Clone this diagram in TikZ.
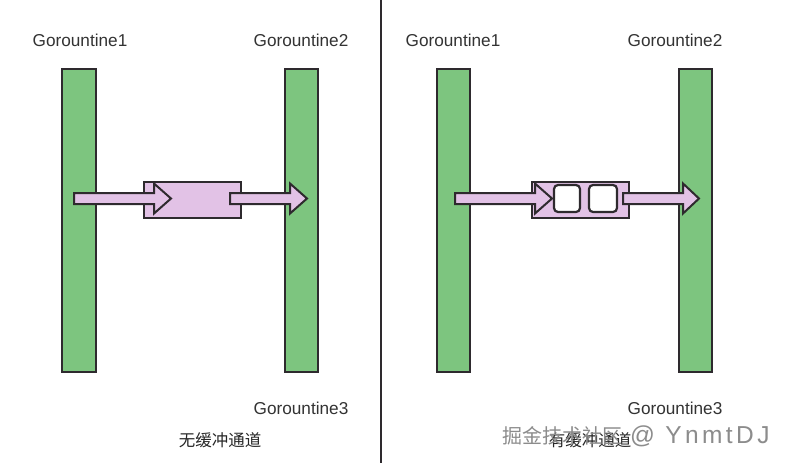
\documentclass[tikz,border=0pt]{standalone}
\usepackage{fontspec}
\setmainfont{Liberation Sans}
\newfontfamily\cjk{Noto Sans CJK SC}
\newfontfamily\wmlat[LetterSpace=14]{Liberation Sans}
\definecolor{gbar}{HTML}{7DC57F}
\definecolor{lav}{HTML}{E2C2E6}
\definecolor{edge}{HTML}{2E2A2E}
\tikzset{
  gbarbox/.style={draw=edge,line width=2pt,fill=gbar},
  bufbox/.style={draw=edge,line width=1.2pt,fill=lav},
  slot/.style={draw=edge,line width=2.2pt,fill=white,rounded corners=4pt},
  blockarr/.style={draw=edge,line width=2pt,fill=lav,line join=miter},
  lbl/.style={font=\fontsize{17.2}{19}\selectfont,text=black!80,inner sep=0pt},
  cnlbl/.style={font=\cjk\fontsize{16.5}{18}\selectfont,text=black!85,inner sep=0pt}
}
\newcommand{\blockarrow}[4]{% x0, xhead, xtip, ycenter
  \draw[blockarr] (#1,#4-5.5) -- (#2,#4-5.5) -- (#2,#4-15) -- (#3,#4) -- (#2,#4+15) -- (#2,#4+5.5) -- (#1,#4+5.5) -- cycle;}
\begin{document}
\begin{tikzpicture}[x=1pt,y=-1pt]
\useasboundingbox (0,0) rectangle (794,463);
\fill[white] (0,0) rectangle (794,463);
% divider
\draw[edge,line width=2pt] (381,0) -- (381,463);
% left panel
\node[gbarbox,minimum width=34pt,minimum height=303pt,inner sep=0pt] (g1) at (79,220.5) {};
\node[gbarbox,minimum width=33pt,minimum height=303pt,inner sep=0pt] (g2) at (301.5,220.5) {};
\node[lbl] (t1) at (80,40) {Gorountine1};
\node[lbl] (t2) at (301,40) {Gorountine2};
\node[lbl] (t3) at (301,408) {Gorountine3};
\node[bufbox,minimum width=97pt,minimum height=36pt,inner sep=0pt] (b1) at (192.5,200) {};
\blockarrow{74}{154}{171}{198.5}
\blockarrow{230}{290}{307}{198.5}
\node[cnlbl] (c1) at (220,440) {无缓冲通道};
% right panel
\node[gbarbox,minimum width=33pt,minimum height=303pt,inner sep=0pt] (g3) at (453.5,220.5) {};
\node[gbarbox,minimum width=33pt,minimum height=303pt,inner sep=0pt] (g4) at (695.5,220.5) {};
\node[lbl] (t4) at (453,40) {Gorountine1};
\node[lbl] (t5) at (675,40) {Gorountine2};
\node[lbl] (t6) at (675,408) {Gorountine3};
\node[bufbox,minimum width=97pt,minimum height=36pt,inner sep=0pt] (b2) at (580.5,200) {};
\blockarrow{455}{535}{552}{198.5}
\node[slot,minimum width=26pt,minimum height=27pt,inner sep=0pt] (s1) at (567,198.5) {};
\node[slot,minimum width=28pt,minimum height=27pt,inner sep=0pt] (s2) at (603,198.5) {};
\blockarrow{623}{683}{699}{198.5}
\node[cnlbl] (c2) at (590,440) {有缓冲通道};
\node[font=\cjk\fontsize{20}{22}\selectfont,text=black!45,inner sep=0pt,anchor=base west] (wm) at (502,443) {掘金技术社区};
\node[font=\wmlat\fontsize{24.5}{26}\selectfont,text=black!45,inner sep=0pt,anchor=base west] (wm2) at (630,443) {@ YnmtDJ};
\end{tikzpicture}
\end{document}
